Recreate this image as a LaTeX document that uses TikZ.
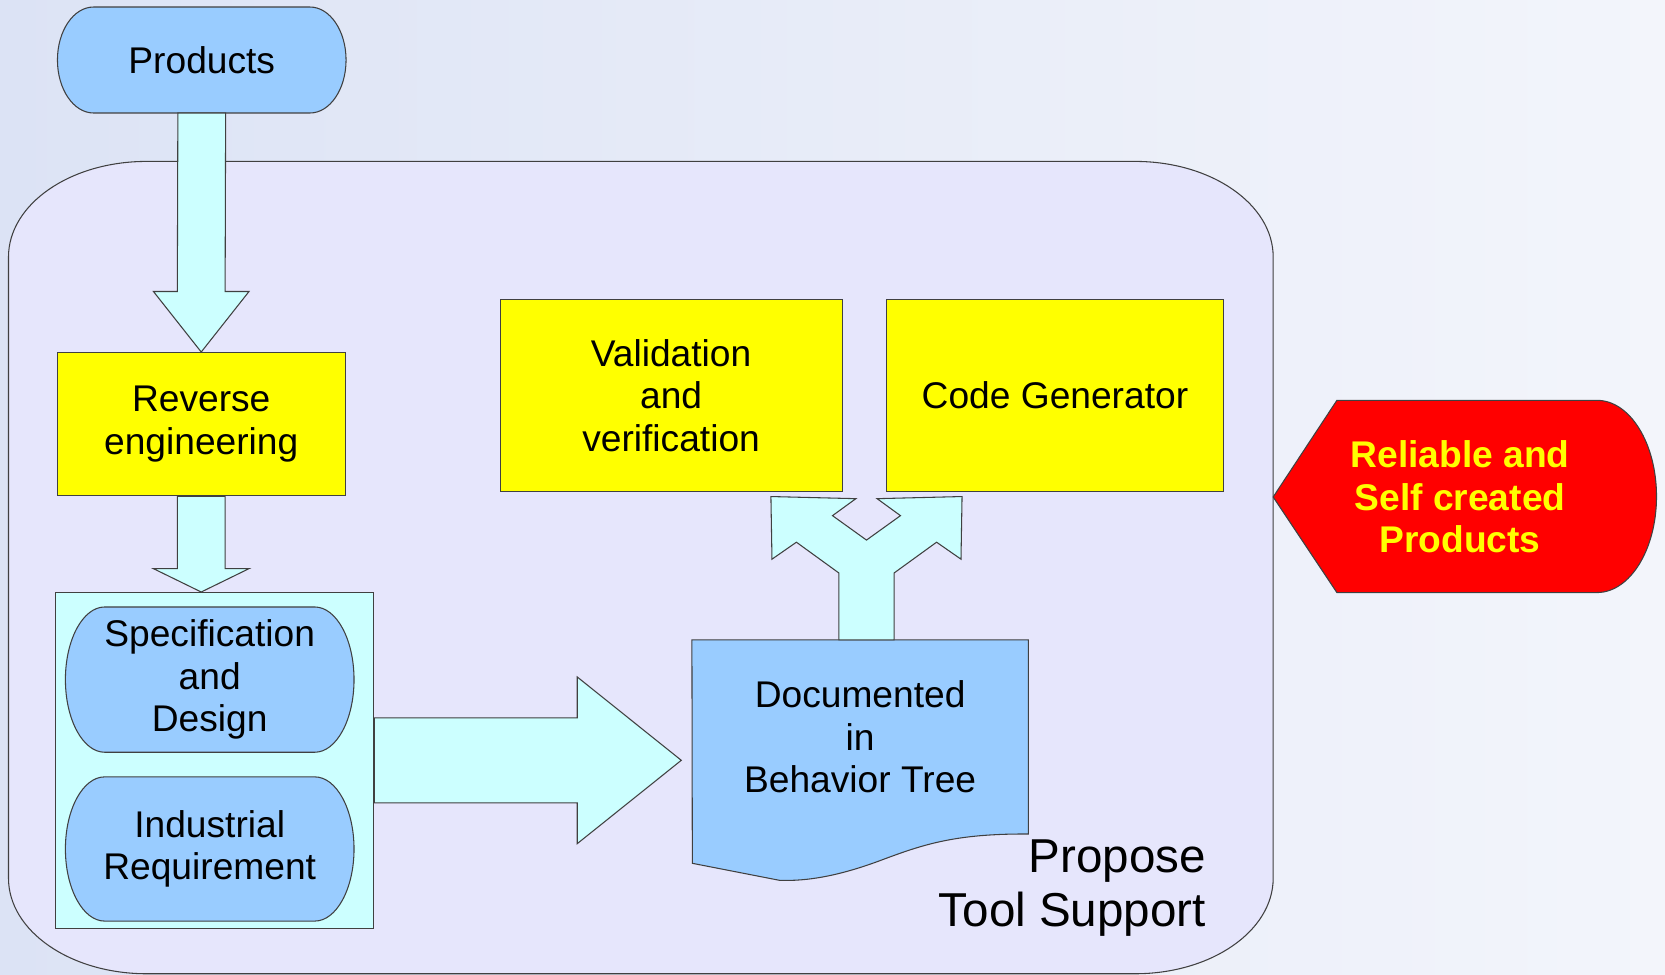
\documentclass[tikz,border=0pt]{standalone}
\usepackage{fontspec}
\setmainfont{Liberation Sans}
\usetikzlibrary{calc,backgrounds}

\definecolor{skyblue}{RGB}{153,204,255}
\definecolor{boxyellow}{RGB}{255,255,0}
\definecolor{palecyan}{RGB}{204,255,255}
\definecolor{toolbg}{RGB}{230,230,252}
\definecolor{bgleft}{RGB}{220,227,245}
\definecolor{bgright}{RGB}{243,245,251}
\definecolor{alertred}{RGB}{255,0,0}

\tikzstyle{outline} = [draw=black!75, line width=0.5pt]
\tikzstyle{process} = [rectangle, outline, fill=boxyellow, text centered, align=center]
\tikzstyle{oval} = [rectangle, minimum width=135.5pt, text centered, align=center]
\tikzstyle{blueshape} = [outline, fill=skyblue]
\tikzstyle{blockarrow} = [outline, fill=palecyan]

\begin{document}
\begin{tikzpicture}[x=0.5pt, y=-0.5pt, font=\fontsize{17.5pt}{20pt}\selectfont]
    \useasboundingbox (0,0) rectangle (1568,918);

    \begin{scope}[on background layer]
        \shade[left color=bgleft, right color=bgright] (0,0) rectangle (1568,918);
        % tool support frame
        \draw[outline, fill=toolbg] (138,152) -- (1069,152)
            arc[start angle=90, end angle=0, x radius=65pt, y radius=45pt] -- (1199,827)
            arc[start angle=0, end angle=-90, x radius=65pt, y radius=45pt] -- (138,917)
            arc[start angle=270, end angle=180, x radius=65pt, y radius=45pt] -- (8,242)
            arc[start angle=180, end angle=90, x radius=65pt, y radius=45pt] -- cycle;
        \node (reqbox) [rectangle, outline, fill=palecyan, minimum width=150pt, minimum height=158pt] at (202,716) {};
    \end{scope}

    \node (tool) [anchor=east, inner sep=0pt, align=right, font=\fontsize{22.4pt}{25.5pt}\selectfont] at (1136,836) {Propose\\Tool Support};

    \node (products) [oval, minimum height=49.5pt] at (190,56.5) {Products};
    \node (reverse) [process, minimum width=135.5pt, minimum height=67.5pt] at (189.5,399.5) {Reverse\\engineering};
    \node (spec) [oval, minimum height=68pt] at (197.5,640) {Specification\\and\\Design};
    \node (indus) [oval, minimum height=67.5pt] at (197.5,799.5) {Industrial\\Requirement};
    \node (valid) [process, minimum width=161pt, minimum height=90.5pt] at (632,372.5) {Validation\\and\\verification};
    \node (codegen) [process, minimum width=158.5pt, minimum height=90.5pt] at (993.5,372.5) {Code Generator};
    \node (docs) [rectangle, minimum width=158pt, minimum height=91pt, align=center] at (810,694) {Documented\\in\\Behavior Tree};

    \begin{scope}[on background layer]
        \foreach \nm/\rx in {products/17pt, spec/18.5pt, indus/18.5pt}
            \draw[blueshape] let \p1=(\nm.north west), \p2=(\nm.south east), \n1={(\y1-\y2)/2} in
                (\x1+\rx,\y1) -- (\x2-\rx,\y1) arc[start angle=90, end angle=-90, x radius=\rx, y radius=\n1]
                -- (\x1+\rx,\y2) arc[start angle=270, end angle=90, x radius=\rx, y radius=\n1] -- cycle;
        \draw[blueshape] (docs.north west) -- (docs.north east) -- (docs.south east)
            .. controls (900,785) and (870,795) .. (830,810)
            .. controls (790,825) and (760,830) .. (734,829) -- (652,813) -- cycle;
    \end{scope}

    % block arrows
    \draw[blockarrow] ([xshift=-11.25pt]products.south) -- ([xshift=-11.25pt,yshift=28.5pt]reverse.north)
        -- ([xshift=-22.5pt,yshift=28.5pt]reverse.north) -- (reverse.north)
        -- ([xshift=22.5pt,yshift=28.5pt]reverse.north) -- ([xshift=11.25pt,yshift=28.5pt]reverse.north)
        -- ([xshift=11.25pt]products.south) -- cycle;
    \coordinate (tip2) at (reverse.south |- reqbox.north);
    \draw[blockarrow] ([xshift=-11.25pt]reverse.south) -- ([xshift=-11.25pt,yshift=11pt]tip2)
        -- ([xshift=-22.5pt,yshift=11pt]tip2) -- (tip2)
        -- ([xshift=22.5pt,yshift=11pt]tip2) -- ([xshift=11.25pt,yshift=11pt]tip2)
        -- ([xshift=11.25pt]reverse.south) -- cycle;
    \coordinate (bigtip) at ($(reqbox.east -| docs.west)+(-10,0)$);
    \draw[blockarrow] ([yshift=20pt]reqbox.east) -- ([xshift=-49pt,yshift=20pt]bigtip)
        -- ([xshift=-49pt,yshift=39.25pt]bigtip) -- (bigtip)
        -- ([xshift=-49pt,yshift=-39.25pt]bigtip) -- ([xshift=-49pt,yshift=-20pt]bigtip)
        -- ([yshift=-20pt]reqbox.east) -- cycle;
    \coordinate (fork) at ([xshift=3pt]docs.north);
    \begin{scope}[shift={(fork)}]
        \draw[blockarrow] (-26,0) -- (-26,-63) -- (-66,-92) -- (-89,-76) -- (-90,-135) -- (-10,-133)
            -- (-32,-117) -- (0,-94) -- (32,-117) -- (10,-133) -- (90,-135) -- (89,-76) -- (66,-92)
            -- (26,-63) -- (26,0) -- cycle;
    \end{scope}

    % result
    \draw[outline, fill=alertred] (1199,468) -- (1259,377) -- (1504,377)
        arc[start angle=90, end angle=-90, x radius=28pt, y radius=45.25pt] -- (1259,558) -- cycle;
    \node (result) [text=boxyellow, font=\fontsize{17.5pt}{20pt}\selectfont\bfseries, align=center] at (1375,468) {Reliable and\\Self created\\Products};
\end{tikzpicture}
\end{document}
